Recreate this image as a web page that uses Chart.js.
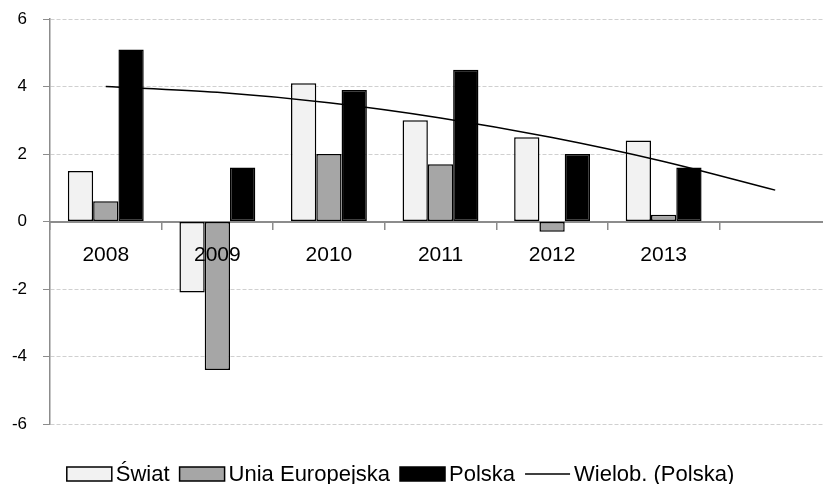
<!DOCTYPE html>
<html lang="pl">
<head>
<meta charset="utf-8">
<title>Wzrost PKB</title>
<script src="https://cdn.jsdelivr.net/npm/chart.js@4/dist/chart.umd.min.js"></script>
<style>
  html, body { margin: 0; padding: 0; background: #fff; overflow: hidden; }
  #wrap { width: 831px; height: 484px; }
</style>
</head>
<body>
<div id="wrap"><canvas id="chart"></canvas></div>
<script>
// dane
const years = ["2008", "2009", "2010", "2011", "2012", "2013", ""];
const swiat = [1.5, -2.1, 4.1, 3.0, 2.5, 2.4, null];
const unia = [0.6, -4.4, 2.0, 1.7, -0.3, 0.2, null];
const polska = [5.1, 1.6, 3.9, 4.5, 2.0, 1.6, null];
// linia trendu wielomianowego
const trendPolska = [4.0, 3.83, 3.52, 3.07, 2.49, 1.78, 0.93];
const yTicks = [-6, -4, -2, 0, 2, 4, 6];

const FONT = "'Liberation Sans', Arial, sans-serif";

// legenda rysowana pod wykresem (pudełka jak w Excelu)
const excelLegend = {
  id: "excelLegend",
  afterDraw(chart) {
    const ctx = chart.ctx;
    const items = chart.data.datasets.map((ds) => ({
      text: ds.label,
      line: ds.type === "line",
      fill: ds.backgroundColor,
    }));
    const boxW = 45, boxH = 14, gap = 4, itemGap = 10;
    ctx.save();
    ctx.font = "22px " + FONT;
    ctx.textBaseline = "middle";
    let total = 0;
    items.forEach((it, i) => {
      total += boxW + gap + ctx.measureText(it.text).width + (i < items.length - 1 ? itemGap : 0);
    });
    let x = chart.width / 2 - 15 - total / 2;
    const y = 474;
    items.forEach((it) => {
      if (it.line) {
        ctx.strokeStyle = "#000";
        ctx.lineWidth = 1.5;
        ctx.beginPath();
        ctx.moveTo(x, y);
        ctx.lineTo(x + boxW, y);
        ctx.stroke();
      } else {
        ctx.fillStyle = it.fill;
        ctx.fillRect(x, y - boxH / 2, boxW, boxH);
        ctx.strokeStyle = "#000";
        ctx.lineWidth = 1.5;
        ctx.strokeRect(x, y - boxH / 2, boxW, boxH);
      }
      x += boxW + gap;
      ctx.fillStyle = "#000";
      ctx.fillText(it.text, x, y + 1);
      x += ctx.measureText(it.text).width + itemGap;
    });
    ctx.restore();
  },
};

const barStyle = {
  borderColor: "#000",
  borderWidth: 1.5,
  borderSkipped: false,
  categoryPercentage: 0.68,
  barPercentage: 1.0,
};

const ctx = document.getElementById("chart").getContext("2d");
const chart = new Chart(ctx, {
  type: "bar",
  data: {
    labels: years,
    datasets: [
      { label: "Świat", data: swiat, backgroundColor: "#f2f2f2", ...barStyle, order: 2 },
      { label: "Unia Europejska", data: unia, backgroundColor: "#a6a6a6", ...barStyle, order: 2 },
      { label: "Polska", data: polska, backgroundColor: "#000000", ...barStyle, order: 2 },
      {
        type: "line",
        label: "Wielob. (Polska)",
        data: trendPolska,
        borderColor: "#000",
        borderWidth: 1.5,
        pointRadius: 0,
        tension: 0.3,
        fill: false,
        order: 1,
      },
    ],
  },
  options: {
    responsive: true,
    maintainAspectRatio: false,
    animation: false,
    layout: { padding: { top: 19, bottom: 60, left: 0, right: 0 } },
    plugins: {
      legend: { display: false },
      tooltip: { enabled: false },
    },
    scales: {
      x: {
        position: { y: 0 },
        offset: true,
        // oś w zerze nie zabiera miejsca na wykresie
        afterFit(scale) {
          scale.height = 0;
        },
        grid: {
          display: true,
          drawOnChartArea: false,
          drawTicks: true,
          tickLength: 7,
          offset: true,
          color: "#8c8c8c",
          lineWidth: 1.5,
        },
        border: { color: "#8c8c8c", width: 2 },
        ticks: {
          z: 1,
          color: "#000",
          padding: 14,
          font: { family: FONT, size: 21 },
          maxRotation: 0,
          autoSkip: false,
        },
      },
      y: {
        min: -6,
        max: 6,
        afterFit(scale) {
          scale.width = 50;
          scale.paddingTop = 10;
          scale.paddingBottom = 10;
        },
        afterBuildTicks(scale) {
          scale.ticks = yTicks.map((v) => ({ value: v }));
        },
        grid: {
          color: "#d0d0d0",
          lineWidth: 1,
          tickColor: "#8c8c8c",
          tickLength: 7,
          tickBorderDash: [],
        },
        border: { color: "#8c8c8c", width: 1.5, dash: [4, 2] },
        ticks: {
          color: "#000",
          padding: 16,
          font: { family: FONT, size: 17 },
        },
      },
    },
  },
  plugins: [excelLegend],
});
</script>
</body>
</html>
